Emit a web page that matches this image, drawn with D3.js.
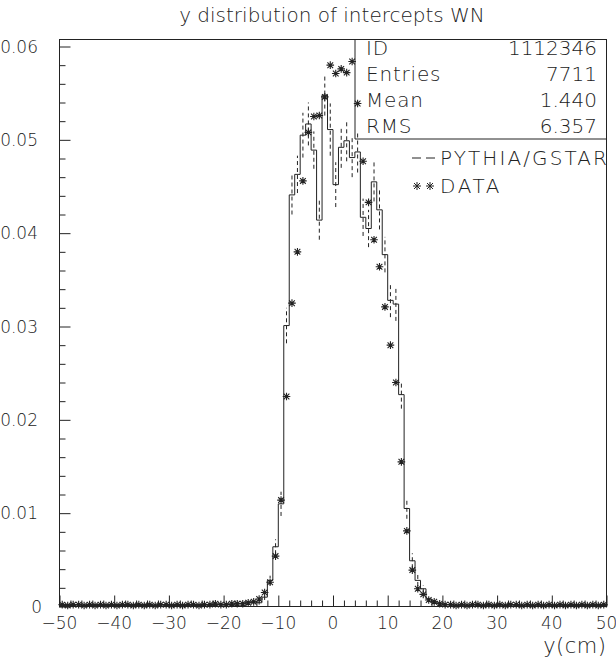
<!DOCTYPE html>
<html lang="en">
    <head>
        <meta charset="utf-8">
        <title>y distribution of intercepts WN</title>
        <script type="text/javascript" src="https://d3js.org/d3.v7.min.js"></script>
        <style type="text/css">
          body {
            margin: 0;
            background: #ffffff;
          }
          svg {
            display: block;
          }
          text {
            font-family: 'DejaVu Sans', sans-serif;
            font-weight: 200;
            fill: #222;
          }
        </style>
    </head>
    <body>
        <script type="text/javascript">

        // bin centres run from -49.5 to 49.5 (1 cm bins)
        const binEdges = d3.range(-50, 51, 1);

        // PYTHIA/GSTAR histogram (solid), one value per bin
        const mcValues = [
          0.0001,0.0002,0.0001,0.0002,0.0001,0.0001,0.0002,0.0001,0.0002,0.0001,
          0.0002,0.0001,0.0001,0.0002,0.0001,0.0002,0.0001,0.0001,0.0002,0.0001,
          0.0002,0.0001,0.0002,0.0001,0.0001,0.0002,0.0002,0.0001,0.0002,0.0002,
          0.0002,0.0002,0.0003,0.0003,0.0004,0.0005,0.0004,0.0010,0.0028,0.0064,
          0.0110,0.0301,0.0441,0.0463,0.0505,0.0517,0.0489,0.0414,0.0548,0.0511,
          0.0452,0.0492,0.0499,0.0481,0.0487,0.0417,0.0405,0.0455,0.0425,0.0377,
          0.0328,0.0324,0.0227,0.0105,0.0049,0.0028,0.0019,0.0008,0.0005,0.0003,
          0.0002,0.0002,0.0001,0.0002,0.0001,0.0002,0.0001,0.0001,0.0002,0.0001,
          0.0002,0.0001,0.0002,0.0001,0.0001,0.0002,0.0001,0.0002,0.0001,0.0002,
          0.0001,0.0002,0.0001,0.0001,0.0002,0.0001,0.0002,0.0001,0.0002,0.0001
        ];

        // error bars of the PYTHIA/GSTAR histogram (dashed)
        const mcErrors = [
          0.0001,0.0001,0.0001,0.0001,0.0001,0.0001,0.0001,0.0001,0.0001,0.0001,
          0.0001,0.0001,0.0001,0.0001,0.0001,0.0001,0.0001,0.0001,0.0001,0.0001,
          0.0001,0.0001,0.0001,0.0001,0.0001,0.0001,0.0001,0.0001,0.0001,0.0001,
          0.0001,0.0001,0.0002,0.0002,0.0002,0.0002,0.0002,0.0003,0.0005,0.0008,
          0.0013,0.0019,0.0021,0.0020,0.0024,0.0023,0.0020,0.0021,0.0022,0.0028,
          0.0024,0.0022,0.0022,0.0021,0.0022,0.0020,0.0020,0.0021,0.0021,0.0019,
          0.0018,0.0018,0.0015,0.0011,0.0008,0.0006,0.0004,0.0003,0.0002,0.0002,
          0.0001,0.0001,0.0001,0.0001,0.0001,0.0001,0.0001,0.0001,0.0001,0.0001,
          0.0001,0.0001,0.0001,0.0001,0.0001,0.0001,0.0001,0.0001,0.0001,0.0001,
          0.0001,0.0001,0.0001,0.0001,0.0001,0.0001,0.0001,0.0001,0.0001,0.0001
        ];

        // DATA points (stars), one per bin centre
        const dataValues = [
          0.0002,0.0001,0.0002,0.0002,0.0001,0.0002,0.0001,0.0002,0.0001,0.0002,
          0.0001,0.0002,0.0002,0.0001,0.0002,0.0001,0.0002,0.0001,0.0002,0.0002,
          0.0001,0.0002,0.0001,0.0002,0.0002,0.0001,0.0002,0.0002,0.0003,0.0002,
          0.0002,0.0003,0.0003,0.0003,0.0004,0.0005,0.0008,0.0015,0.0026,0.0054,
          0.0114,0.0225,0.0325,0.0380,0.0456,0.0508,0.0525,0.0526,0.0546,0.0580,
          0.0571,0.0576,0.0572,0.0584,0.0539,0.0477,0.0433,0.0393,0.0364,0.0321,
          0.0280,0.0240,0.0155,0.0081,0.0039,0.0019,0.0013,0.0007,0.0005,0.0003,
          0.0002,0.0002,0.0001,0.0002,0.0001,0.0002,0.0002,0.0001,0.0002,0.0001,
          0.0002,0.0001,0.0002,0.0002,0.0001,0.0002,0.0001,0.0002,0.0001,0.0002,
          0.0001,0.0002,0.0001,0.0002,0.0001,0.0002,0.0001,0.0002,0.0001,0.0002
        ];

        const yTicks = [0, 0.01, 0.02, 0.03, 0.04, 0.05, 0.06];
        const xTicks = [-50, -40, -30, -20, -10, 0, 10, 20, 30, 40, 50];

        const statLabels = ["ID", "Entries", "Mean", "RMS"];
        const statValues = ["1112346", "7711", "1.440", "6.357"];
        const legendLabels = ["PYTHIA/GSTAR", "DATA"];

        const w = 616;
        const h = 657;
        const m = {left: 59.5, right: 606.5, top: 39.5, bottom: 606.5};
        const ink = "#222";

        const svg = d3.select("body").append("svg")
                      .attr("width", w)
                      .attr("height", h);

        const x = d3.scaleLinear().domain([-50, 50]).range([m.left, m.right]);
        const y = d3.scaleLinear().domain([0, 0.06075]).range([m.bottom, m.top]);

        // title
        svg.append("text")
           .attr("x", 332)
           .attr("y", 22)
           .attr("text-anchor", "middle")
           .attr("font-size", "20px")
           .text("y distribution of intercepts WN");

        // axes: PAW style ticks pointing inwards
        const yAxis = d3.axisRight(y)
                        .tickValues(d3.range(0, 0.0601, 0.002))
                        .tickSize(6)
                        .tickFormat("");
        const yAxisG = svg.append("g").attr("transform", `translate(${m.left},0)`).call(yAxis);
        yAxisG.selectAll(".tick line")
              .attr("x2", d => Math.abs(d * 100 - Math.round(d * 100)) < 1e-6 ? 11 : 6);

        const xAxis = d3.axisTop(x)
                        .tickValues(d3.range(-50, 51, 2))
                        .tickSize(6)
                        .tickFormat("");
        const xAxisG = svg.append("g").attr("transform", `translate(0,${m.bottom})`).call(xAxis);
        xAxisG.selectAll(".tick line")
              .attr("y2", d => d % 10 === 0 ? -11 : -6);

        svg.selectAll(".domain").remove();
        svg.selectAll(".tick line").attr("stroke", ink).attr("stroke-width", 1);

        // frame
        svg.append("rect")
           .attr("x", m.left).attr("y", m.top)
           .attr("width", m.right - m.left).attr("height", m.bottom - m.top)
           .attr("fill", "none")
           .attr("stroke", ink)
           .attr("stroke-width", 1);

        // tick labels
        svg.selectAll(".ylab")
           .data(yTicks)
           .enter()
           .append("text")
           .attr("class", "ylab")
           .attr("x", d => d === 0 ? 42 : 38)
           .attr("y", d => y(d) + 6)
           .attr("text-anchor", "end")
           .attr("font-size", "17px")
           .text(d => d === 0 ? "0" : d3.format(".2f")(d));

        svg.selectAll(".xlab")
           .data(xTicks)
           .enter()
           .append("text")
           .attr("class", "xlab")
           .attr("x", d => x(d))
           .attr("y", m.bottom + 22)
           .attr("text-anchor", "middle")
           .attr("font-size", "17px")
           .text(d => d < 0 ? "\u2212" + Math.abs(d) : d);

        svg.append("text")
           .attr("x", m.right)
           .attr("y", 653)
           .attr("text-anchor", "end")
           .attr("font-size", "21px")
           .attr("letter-spacing", "0.5px")
           .text("y(cm)");

        // histogram (solid step line)
        const steps = mcValues.map((v, i) => [binEdges[i], v]);
        steps.push([binEdges[100], mcValues[99]]);

        const stepLine = d3.line()
                           .x(d => x(d[0]))
                           .y(d => y(d[1]))
                           .curve(d3.curveStepAfter);

        svg.append("path")
           .datum(steps)
           .attr("d", stepLine)
           .attr("fill", "none")
           .attr("stroke", ink)
           .attr("stroke-width", 1);

        // dashed error bars
        svg.selectAll(".err")
           .data(mcValues)
           .enter()
           .append("line")
           .attr("class", "err")
           .attr("x1", (d, i) => x(binEdges[i] + 0.5))
           .attr("x2", (d, i) => x(binEdges[i] + 0.5))
           .attr("y1", (d, i) => y(Math.max(0, d - mcErrors[i])))
           .attr("y2", (d, i) => y(d + mcErrors[i]))
           .attr("stroke", ink)
           .attr("stroke-width", 1)
           .attr("stroke-dasharray", "4,3");

        // star marker (PAW "*")
        const star = (cx, cy, r) => {
          const a = r * 0.75;
          return `M${cx - r},${cy}L${cx + r},${cy}M${cx},${cy - r}L${cx},${cy + r}` +
                 `M${cx - a},${cy - a}L${cx + a},${cy + a}M${cx - a},${cy + a}L${cx + a},${cy - a}`;
        };

        svg.selectAll(".star")
           .data(dataValues)
           .enter()
           .append("path")
           .attr("class", "star")
           .attr("d", (d, i) => star(x(binEdges[i] + 0.5), y(d), 3.8))
           .attr("fill", "none")
           .attr("stroke", ink)
           .attr("stroke-width", 1.1);

        // statistics box
        svg.append("path")
           .attr("d", `M355,${m.top}L355,139L${m.right},139`)
           .attr("fill", "none")
           .attr("stroke", ink)
           .attr("stroke-width", 1);

        statLabels.forEach((lab, i) => {
          const by = 55 + i * 26;
          svg.append("text")
             .attr("x", 366).attr("y", by)
             .attr("font-size", "20px")
             .attr("letter-spacing", "0.8px")
             .text(lab);
          svg.append("text")
             .attr("x", 597).attr("y", by)
             .attr("text-anchor", "end")
             .attr("font-size", "20px")
             .text(statValues[i]);
        });

        // legend
        svg.append("line")
           .attr("x1", 412).attr("x2", 435)
           .attr("y1", 158).attr("y2", 158)
           .attr("stroke", ink)
           .attr("stroke-dasharray", "9,5");
        svg.append("text")
           .attr("x", 440).attr("y", 165)
           .attr("font-size", "20px")
           .attr("letter-spacing", "2.1px")
           .text(legendLabels[0]);

        [417, 430].forEach(cx => {
          svg.append("path")
             .attr("d", star(cx, 186, 4))
             .attr("fill", "none")
             .attr("stroke", ink)
             .attr("stroke-width", 1);
        });
        svg.append("text")
           .attr("x", 440).attr("y", 193)
           .attr("font-size", "20px")
           .attr("letter-spacing", "2.6px")
           .text(legendLabels[1]);

        </script>
    </body>
</html>
